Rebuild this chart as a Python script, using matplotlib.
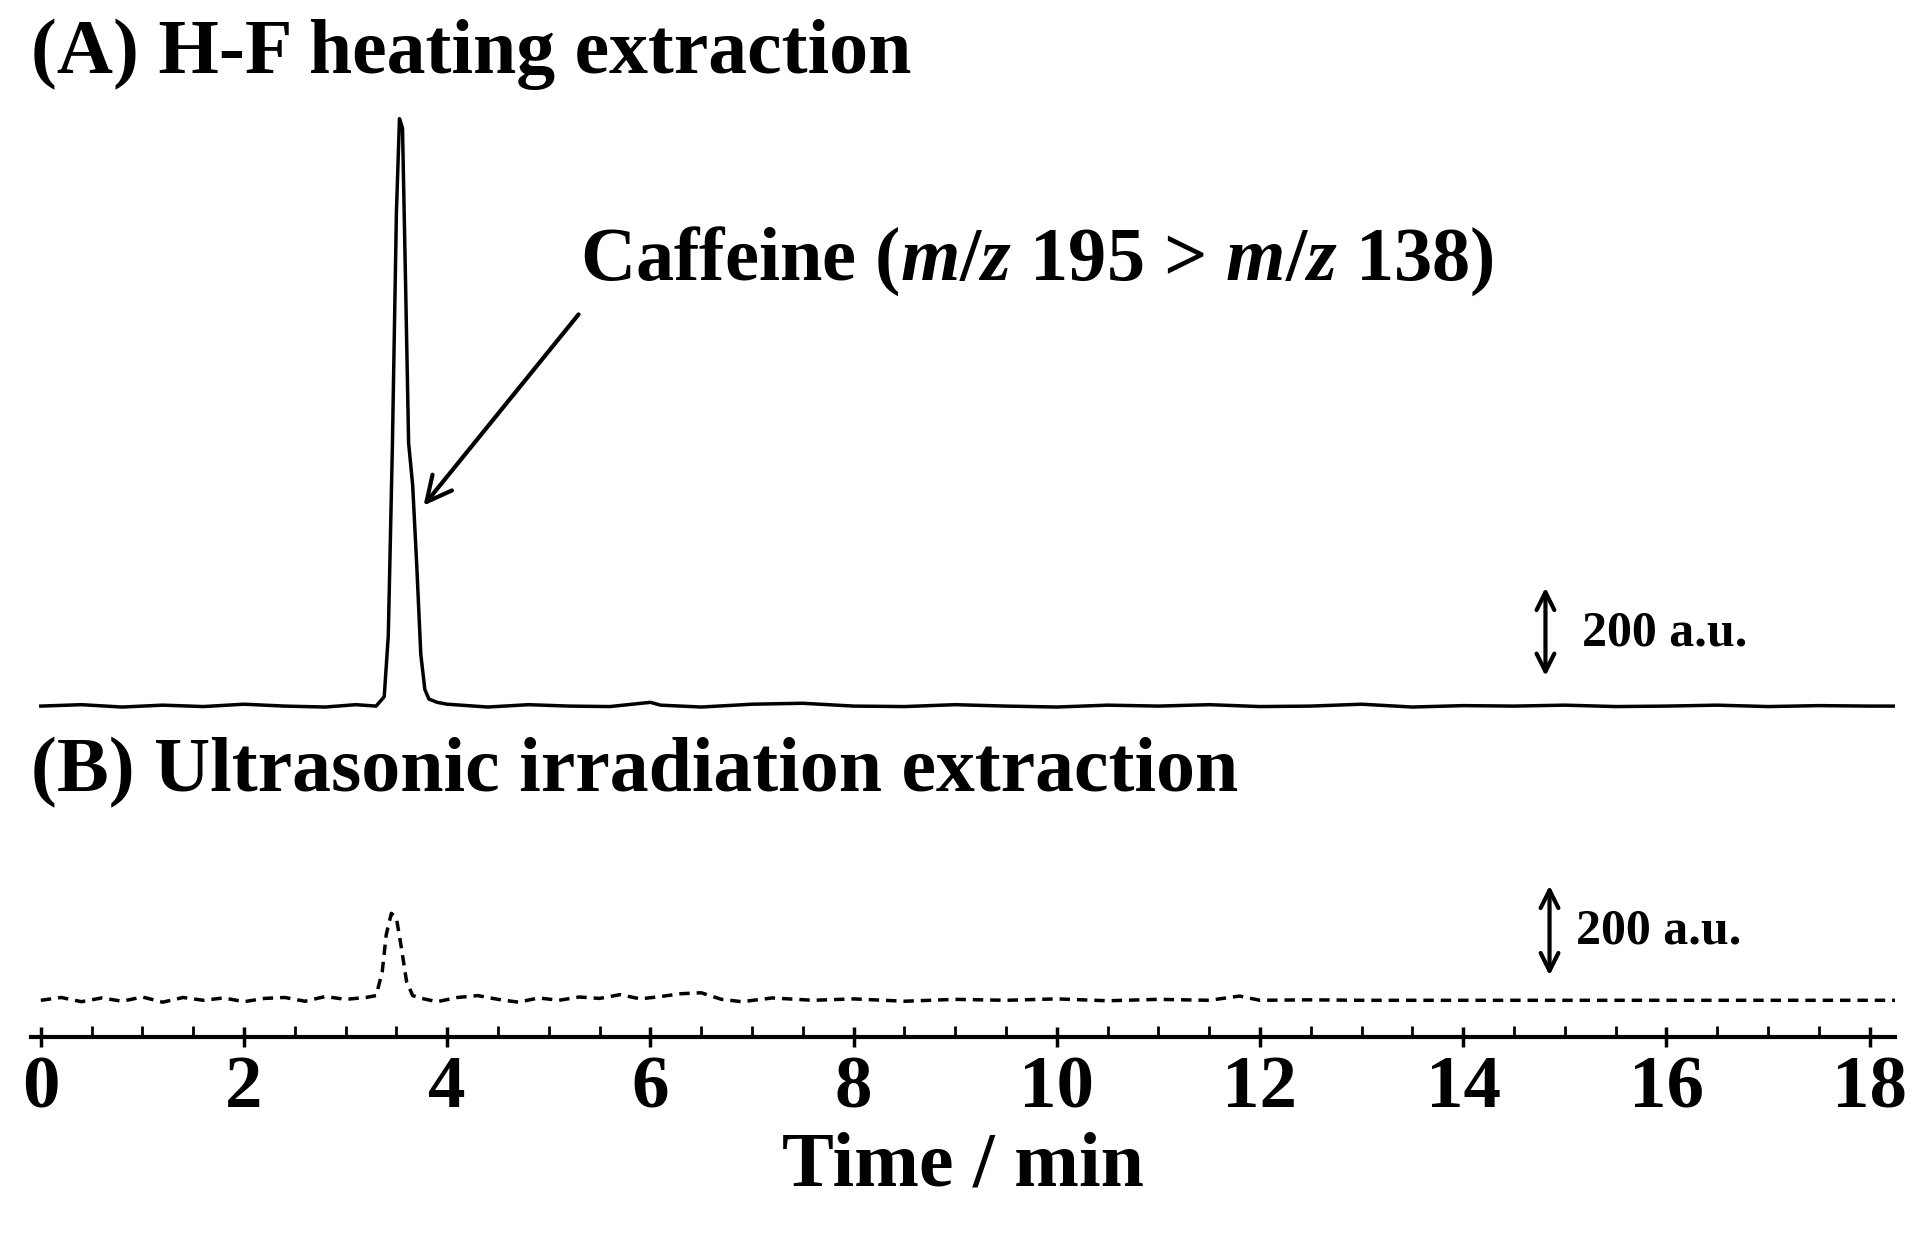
import matplotlib
matplotlib.use("Agg")
import matplotlib.pyplot as plt
import numpy as np

# ------------------------------------------------------------------
# Datos leidos del cromatograma (tiempo en min, intensidad en a.u.)
# ------------------------------------------------------------------
TIEMPO_A = [0.0, 0.4, 0.8, 1.2, 1.6, 2.0, 2.4, 2.8, 3.1, 3.3, 3.38, 3.42, 3.46,
            3.5, 3.53, 3.56, 3.59, 3.62, 3.66, 3.7, 3.74, 3.78, 3.82, 3.9, 4.0,
            4.4, 4.8, 5.2, 5.6, 6.0, 6.1, 6.5, 7.0, 7.5, 8.0, 8.5, 9.0, 9.5,
            10.0, 10.5, 11.0, 11.5, 12.0, 12.5, 13.0, 13.5, 14.0, 14.5, 15.0,
            15.5, 16.0, 16.5, 17.0, 17.5, 18.0, 18.25]
SENAL_A = [0, 3, -2, 2, -1, 4, 0, -2, 3, 0, 20, 150, 550,
           1050, 1250, 1230, 900, 560, 470, 300, 110, 35, 15, 8, 4,
           -2, 3, 0, -1, 8, 2, -2, 4, 6, 0, -1, 3, 0,
           -2, 2, 0, 3, -1, 0, 4, -2, 1, 0, 2,
           -1, 0, 2, -1, 1, 0, 0]
BASE_A = 704

TIEMPO_B = [0.0, 0.2, 0.4, 0.6, 0.8, 1.0, 1.2, 1.4, 1.6, 1.8, 2.0, 2.2, 2.4,
            2.6, 2.8, 3.0, 3.2, 3.3, 3.36, 3.4, 3.45, 3.5, 3.55, 3.6, 3.66,
            3.75, 3.9, 4.1, 4.3, 4.5, 4.7, 4.9, 5.1, 5.3, 5.5, 5.7, 5.9, 6.1,
            6.3, 6.5, 6.7, 6.9, 7.2, 7.6, 8.0, 8.5, 9.0, 9.5, 10.0, 10.5,
            11.0, 11.5, 11.8, 12.0, 12.5, 13.0, 14.0, 15.0, 16.0, 17.0, 18.0, 18.25]
SENAL_B = [0, 6, -3, 5, -2, 7, -4, 6, 0, 5, -3, 4, 6,
           -2, 8, 2, 6, 10, 60, 140, 185, 175, 110, 40, 10,
           4, -3, 6, 10, 2, -4, 5, 0, 7, 4, 12, 3, 8,
           14, 16, 2, -3, 5, 0, 3, -2, 2, 0, 3, -1,
           2, 0, 9, 0, 1, 0, 0, 0, 0, 0, 0, 0]
BASE_B = 78

TICKS_X = [0, 2, 4, 6, 8, 10, 12, 14, 16, 18]

plt.rcParams["font.family"] = ["Liberation Serif", "DejaVu Serif"]
plt.rcParams["font.weight"] = "bold"
plt.rcParams["mathtext.fontset"] = "custom"
plt.rcParams["mathtext.rm"] = "Liberation Serif:bold"
plt.rcParams["mathtext.it"] = "Liberation Serif:italic:bold"

fig = plt.figure(figsize=(19.17, 12.33), dpi=100)
ax = fig.add_axes([0.016, 0.159, 0.9725, 0.781])

ax.plot(TIEMPO_A, np.array(SENAL_A) + BASE_A, color="black", lw=2.5)
ax.plot(TIEMPO_B, np.array(SENAL_B) + BASE_B, color="black", lw=2.5,
        linestyle=(0, (3, 2)))

ax.set_xlim(-0.1, 18.25)
ax.set_ylim(0, 2049)
for lado in ["top", "right", "left"]:
    ax.spines[lado].set_visible(False)
ax.spines["bottom"].set_linewidth(3)
ax.set_yticks([])
ax.set_xticks(TICKS_X)
ax.set_xticks(np.arange(0, 18.01, 0.5), minor=True)
ax.tick_params(axis="x", which="major", direction="inout", length=14, width=2.5,
               labelsize=54, pad=6)
ax.tick_params(axis="x", which="minor", direction="in", length=8, width=2)
for lbl in ax.get_xticklabels():
    lbl.set_fontweight("bold")
ax.set_xlabel("Time / min", fontsize=56, fontweight="bold", labelpad=6)

fig.text(0.016, 0.956, "(A) H-F heating extraction", fontsize=56,
         fontweight="bold", va="center", ha="left")
ax.text(-0.1, 562, "(B) Ultrasonic irradiation extraction", fontsize=56,
        fontweight="bold", va="center", ha="left")

ax.text(5.31, 1651, r"Caffeine ($\mathit{m/z}$ 195 > $\mathit{m/z}$ 138)",
        fontsize=55, va="center", ha="left")
ax.annotate("", xy=(3.75, 1126), xytext=(5.31, 1542),
            arrowprops=dict(arrowstyle="->", lw=3, color="black",
                            mutation_scale=45))

# barras de escala 200 a.u.
ax.annotate("", xy=(14.81, 962), xytext=(14.81, 762),
            arrowprops=dict(arrowstyle="<->", lw=3, color="black",
                            mutation_scale=32))
ax.text(15.17, 858, "200 a.u.", fontsize=36, fontweight="bold", va="center")
ax.annotate("", xy=(14.85, 328), xytext=(14.85, 125),
            arrowprops=dict(arrowstyle="<->", lw=3, color="black",
                            mutation_scale=32))
ax.text(15.11, 224, "200 a.u.", fontsize=36, fontweight="bold", va="center")

fig.savefig("out.png", dpi=100)
